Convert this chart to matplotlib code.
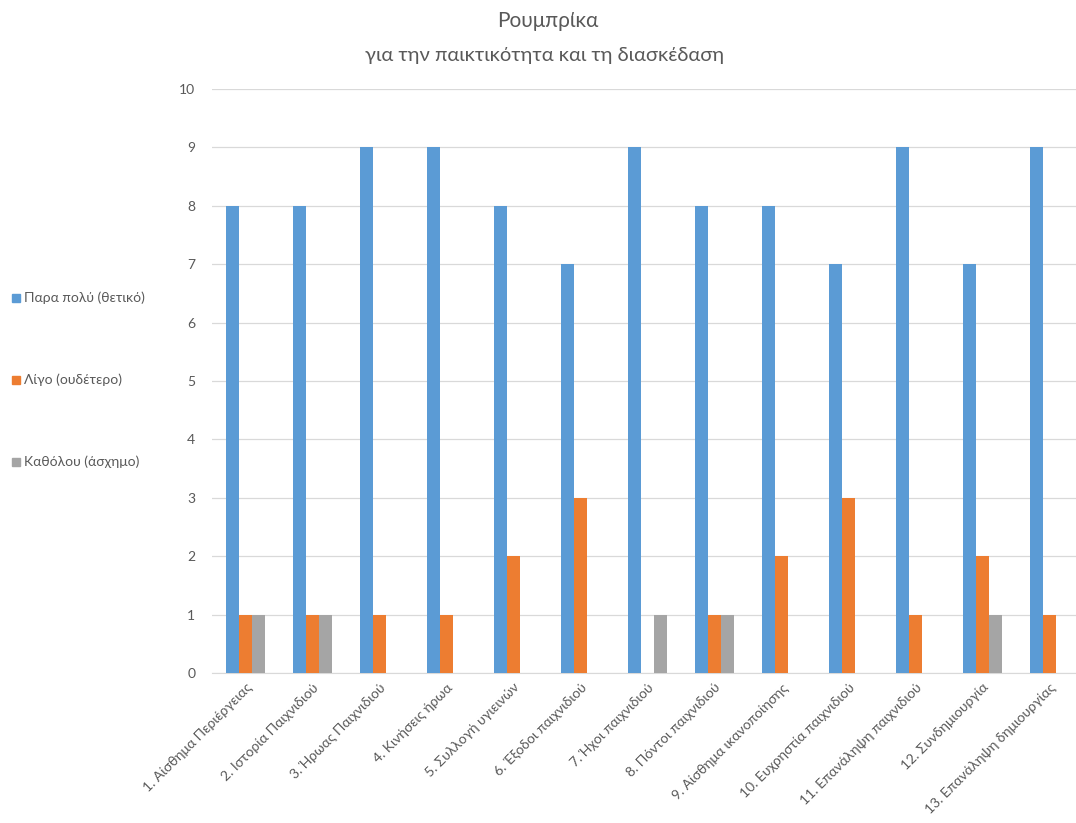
import matplotlib
matplotlib.use("Agg")
import matplotlib.pyplot as plt
import numpy as np

plt.rcParams['font.family'] = ['Lato', 'Open Sans', 'DejaVu Sans']

categories = ["1. Αίσθημα Περιέργειας", "2. Ιστορία Παιχνιδιού", "3. Ήρωας Παιχνιδιού",
              "4. Κινήσεις ήρωα", "5. Συλλογή υγιεινών", "6. Έξοδοι παιχνιδιού",
              "7. Ήχοι παιχνιδιού", "8. Πόντοι παιχνιδιού", "9. Αίσθημα ικανοποίησης",
              "10. Ευχρηστία παιχνιδιού", "11. Επανάληψη παιχνιδιού", "12. Συνδημιουργία",
              "13. Επανάληψη δημιουργίας"]
series_names = ["Παρα πολύ (θετικό)", "Λίγο (ουδέτερο)", "Καθόλου (άσχημο)"]
very_much = [8, 8, 9, 9, 8, 7, 9, 8, 8, 7, 9, 7, 9]
little = [1, 1, 1, 1, 2, 3, 0, 1, 2, 3, 1, 2, 1]
not_at_all = [1, 1, 0, 0, 0, 0, 1, 1, 0, 0, 0, 1, 0]
colors = ["#5B9BD5", "#ED7D31", "#A5A5A5"]
text_color = "#595959"

W, H = 1076, 823
fig = plt.figure(figsize=(W/100, H/100), dpi=100)
ax = fig.add_axes([212/W, (H-673)/H, 871/W, (673-89)/H])

x = np.arange(len(categories))
bw = 0.193
for i, (vals, c) in enumerate(zip([very_much, little, not_at_all], colors)):
    ax.bar(x + (i-1)*bw, vals, bw, color=c, label=series_names[i], zorder=3)

ax.set_xlim(-0.5, len(categories)-0.5)
ax.set_ylim(0, 10)
ax.set_yticks(range(0, 11))
ax.yaxis.grid(True, color="#D9D9D9", linewidth=0.9, zorder=0)
ax.set_axisbelow(True)
for s in ["top", "right", "left"]:
    ax.spines[s].set_visible(False)
ax.spines["bottom"].set_color("#D9D9D9")
ax.tick_params(axis='both', length=0, colors=text_color, labelsize=10)
ax.tick_params(axis='y', pad=12)
ax.set_xticks(x)
ax.set_xticklabels(categories, rotation=45, ha='right', rotation_mode='anchor', color=text_color)
ax.tick_params(axis='x', pad=6)

fig.text(548/W, 1-21/H, "Ρουμπρίκα", ha='center', va='center', fontsize=15, color=text_color)
fig.text(545/W, 1-55/H, "για την παικτικότητα και τη διασκέδαση", ha='center', va='center', fontsize=14.5, color=text_color)

leg_y = [298, 380, 462]
for name, c, yy in zip(series_names, colors, leg_y):
    fig.patches.append(plt.Rectangle((12/W, 1-(yy+4)/H), 8/W, 8/H, transform=fig.transFigure, color=c))
    fig.text(24/W, 1-yy/H, name, ha='left', va='center', fontsize=10, color=text_color)

fig.savefig("out.png", dpi=100)
